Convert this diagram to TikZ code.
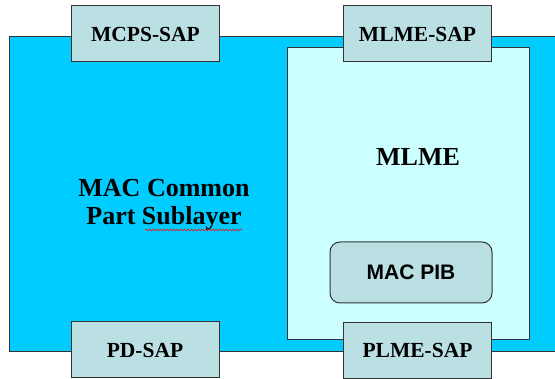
\documentclass[tikz,border=0pt]{standalone}
\usepackage{fontspec}
\setmainfont{Liberation Serif}
\newfontfamily\arialfont{Liberation Sans}
\usetikzlibrary{decorations.pathmorphing}
\definecolor{macblue}{HTML}{00CCFF}
\definecolor{mlmefill}{HTML}{CCFFFF}
\definecolor{sapfill}{HTML}{BBE0E3}
\definecolor{edgegray}{HTML}{333333}
\tikzset{
  layerbox/.style={draw=edgegray, line width=1pt},
  sapbox/.style={draw=edgegray, line width=1pt, fill=sapfill, minimum width=148pt,
    minimum height=56pt, inner sep=0pt,
    font=\fontsize{21.5}{24}\selectfont\bfseries},
  pibbox/.style={draw=edgegray, line width=1pt, fill=sapfill, rounded corners=10pt,
    minimum width=162pt, minimum height=61pt, inner sep=0pt,
    font=\arialfont\fontsize{21}{24}\selectfont\bfseries},
  bigtext/.style={font=\fontsize{26}{28}\selectfont\bfseries, align=center, inner sep=0pt}
}
\begin{document}
\begin{tikzpicture}[x=1pt, y=-1pt]
  \useasboundingbox (0,0) rectangle (555,379);
  % MAC common part sublayer (extends past the right edge)
  \path[layerbox, fill=macblue] (9,37) rectangle (570,352);
  % MLME region
  \path[layerbox, fill=mlmefill] (287,48) rectangle (529,340);
  \node[pibbox] (pib) at (411,272.5) {MAC PIB};
  \node[bigtext] (mlme) at (418,157) {MLME};
  \node[bigtext, anchor=base] (cps) at (164,225) {MAC Common\\Part Sublayer};
  \draw[red, line width=0.5pt, decorate, decoration={snake, amplitude=1pt, segment length=3.5pt}]
    (145,230) -- (242,230);
  % service access points
  \node[sapbox] (mcps) at (145.5,34) {MCPS-SAP};
  \node[sapbox] (mlmesap) at (417.5,34) {MLME-SAP};
  \node[sapbox] (pd) at (145,350) {PD-SAP};
  \node[sapbox] (plme) at (417.5,350.5) {PLME-SAP};
\end{tikzpicture}
\end{document}
